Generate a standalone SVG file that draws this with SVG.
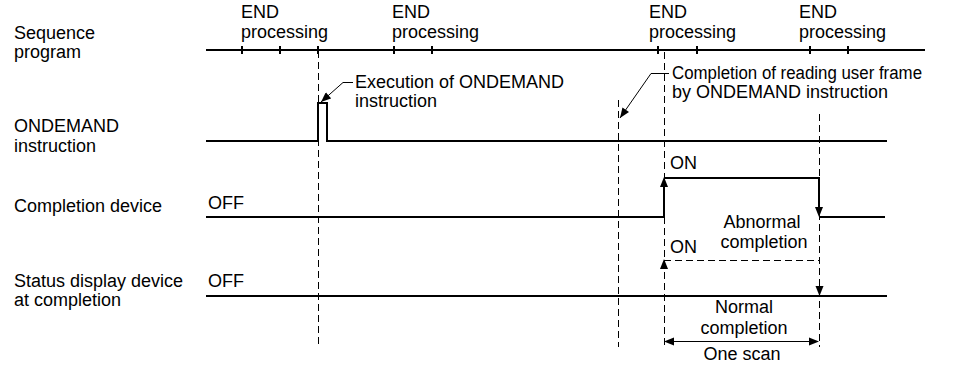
<svg xmlns="http://www.w3.org/2000/svg" width="962" height="365" viewBox="0 0 962 365">
<style>
text{font-family:"Liberation Sans",Arial,sans-serif;font-size:18px;fill:#000}
.mid{text-anchor:middle}
.sig{fill:none;stroke:#000;stroke-width:2}
.dash{fill:none;stroke:#000;stroke-width:1;stroke-dasharray:7,4}
.thin{fill:none;stroke:#000;stroke-width:1}
.tick{stroke:#000;stroke-width:2}
</style>
<defs>
<marker id="ah" viewBox="0 0 10 8" refX="10" refY="4" markerWidth="11" markerHeight="8" markerUnits="userSpaceOnUse" orient="auto">
<path d="M0,0 L10,4 L0,8 Z" fill="#000"/>
</marker>
</defs>
<rect width="962" height="365" fill="#fff"/>

<g id="labels">
<text x="14" y="39">Sequence</text>
<text x="14" y="58">program</text>
<text x="14" y="132">ONDEMAND</text>
<text x="14" y="152">instruction</text>
<text x="14" y="212">Completion device</text>
<text x="14" y="287">Status display device</text>
<text x="14" y="306">at completion</text>
</g>

<g id="end-labels">
<text x="241" y="18">END</text><text x="241" y="38">processing</text>
<text x="392" y="18">END</text><text x="392" y="38">processing</text>
<text x="649" y="18">END</text><text x="649" y="38">processing</text>
<text x="799" y="18">END</text><text x="799" y="38">processing</text>
</g>

<g id="sequence-program">
<line class="sig" x1="206" y1="50" x2="925" y2="50"/>
<g class="tick">
<line x1="242" y1="46" x2="242" y2="54"/>
<line x1="280" y1="46" x2="280" y2="54"/>
<line x1="318" y1="46" x2="318" y2="54"/>
<line x1="394" y1="46" x2="394" y2="54"/>
<line x1="432" y1="46" x2="432" y2="54"/>
<line x1="658" y1="46" x2="658" y2="54"/>
<line x1="697" y1="46" x2="697" y2="54"/>
<line x1="810" y1="46" x2="810" y2="54"/>
<line x1="848" y1="46" x2="848" y2="54"/>
</g>
</g>

<g id="guides">
<line class="dash" x1="318.5" y1="51" x2="318.5" y2="347"/>
<line class="dash" x1="618.5" y1="100" x2="618.5" y2="347"/>
<line class="dash" x1="664.5" y1="52" x2="664.5" y2="347"/>
<line class="dash" x1="819.5" y1="114" x2="819.5" y2="347"/>
</g>

<g id="ondemand-instruction">
<path class="sig" d="M206,141 H318 V103 H327 V141 H887"/>
</g>

<g id="completion-device">
<path class="sig" d="M206,217 H664 V186"/>
<path class="sig" d="M664,178 H819 V208"/>
<path class="sig" d="M819,217 H885"/>
<polygon points="664,177 660,187 668,187" fill="#000"/>
<polygon points="819,217 815,207 823,207" fill="#000"/>
<text x="208" y="209">OFF</text>
<text x="670" y="169">ON</text>
<text class="mid" x="762" y="228">Abnormal</text>
<text class="mid" x="764" y="248">completion</text>
</g>

<g id="status-display">
<line class="sig" x1="206" y1="296" x2="887" y2="296"/>
<path class="dash" d="M664,260.5 H819"/>
<polygon points="664,259 660,269 668,269" fill="#000"/>
<polygon points="819.5,296 815.5,286 823.5,286" fill="#000"/>
<text x="208" y="287">OFF</text>
<text x="670" y="253">ON</text>
<text class="mid" x="744" y="313">Normal</text>
<text class="mid" x="744" y="334">completion</text>
</g>

<g id="one-scan">
<line class="thin" x1="670" y1="341.5" x2="813" y2="341.5"/>
<polygon points="664,341.5 674,337.5 674,345.5" fill="#000"/>
<polygon points="819,341.5 809,337.5 809,345.5" fill="#000"/>
<text class="mid" x="742" y="360">One scan</text>
</g>

<g id="connectors">
<path class="thin" d="M353,82.5 H343 L321,102" marker-end="url(#ah)"/>
<path class="thin" d="M669,73.5 H651 L620,118" marker-end="url(#ah)"/>
</g>

<g id="annotations">
<text x="355" y="88">Execution of ONDEMAND</text>
<text x="355" y="107">instruction</text>
<text x="672" y="79" textLength="250" lengthAdjust="spacingAndGlyphs">Completion of reading user frame</text>
<text x="672" y="98">by ONDEMAND instruction</text>
</g>
</svg>
